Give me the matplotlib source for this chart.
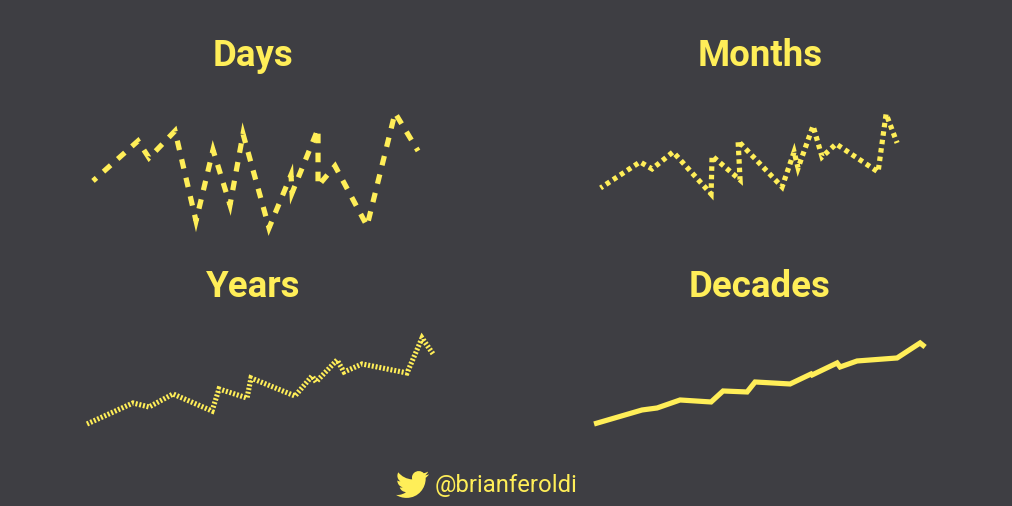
import matplotlib
matplotlib.use("Agg")
import matplotlib.pyplot as plt
from matplotlib.path import Path
from matplotlib.patches import PathPatch

plt.rcParams['lines.scale_dashes'] = False

BG = '#3E3E43'
YELLOW = '#FFEE58'

days_x = [93, 138, 149, 175, 196, 213, 230, 243, 269, 291, 292, 318, 318, 335, 367, 395, 418]
days_y = [181, 141, 158, 131, 221, 150, 205, 134, 228, 175, 193, 129, 186, 166, 226, 113, 151]
months_x = [600.5, 640, 652, 673, 711, 712, 740, 738, 782, 794, 798, 813, 822, 836, 878, 886, 897]
months_y = [188, 162, 169, 152, 194, 156, 180, 141, 187, 152, 168, 126, 157, 144, 172, 114, 143]
years_x = [87, 133, 149, 173, 212, 219, 247, 251, 295, 312, 316, 337, 344, 362, 407, 422, 433]
years_y = [424, 403, 407, 394, 411, 389, 398, 378, 396, 376, 382, 360, 372, 364, 373, 338, 354]
decades_x = [594, 642, 657, 680, 711, 723, 747, 755, 790, 811, 812, 837, 840, 857, 897, 920, 925]
decades_y = [424, 410, 408, 400, 402, 391, 392, 382, 384, 374, 375, 363, 367, 361, 358, 343, 347]

titles = ['Days', 'Months', 'Years', 'Decades']
handle = '@brianferoldi'

fig = plt.figure(figsize=(10.121, 5.061), dpi=100, facecolor=BG)
ax = fig.add_axes([0, 0, 1, 1])
ax.set_xlim(0, 1012)
ax.set_ylim(506, 0)
ax.axis('off')

px = 0.72  # points per pixel at 100 dpi
series = [
    (days_x, days_y, (5 * px, (9.6 * px, 9.4 * px))),
    (months_x, months_y, (2 * px, (4.5 * px, 4 * px))),
    (years_x, years_y, (0, (2 * px, 1.8 * px))),
    (decades_x, decades_y, None),
]
for x, y, dash in series:
    line, = ax.plot(x, y, color=YELLOW, lw=5.2 * px,
                    solid_joinstyle='miter', solid_capstyle='butt',
                    dash_joinstyle='miter', dash_capstyle='butt')
    if dash is not None:
        line.set_linestyle(dash)

title_pos = [(253, 66), (760, 66), (253, 297), (759, 297)]
for t, (tx, ty) in zip(titles, title_pos):
    ax.text(tx, ty, t, color=YELLOW, fontsize=26.4, fontweight='bold',
            family='Roboto', ha='center', va='baseline')

ax.text(435, 492, handle, color=YELLOW, fontsize=17.2, family='Roboto',
        ha='left', va='baseline')

# Twitter bird (24-unit icon) as Bezier outline
start = (23.953, 4.57)
segs = [
    (-.9, .4, -1.85, .65, -2.825, .775), (1.01, -.61, 1.79, -1.57, 2.163, -2.723),
    (-.951, .555, -2.005, .959, -3.127, 1.184), (-1.9, -2.02, -5.08, -2.12, -7.1, -.22),
    (-1.29, 1.21, -1.84, 3.03, -1.284, 4.702), (-4.09, -.19, -7.713, -2.155, -10.14, -5.123),
    (-.43, .74, -.666, 1.59, -.666, 2.475), (0, 1.71, .87, 3.213, 2.188, 4.096),
    (-.78, -.03, -1.54, -.24, -2.228, -.616), (0, .02, 0, .04, 0, .06),
    (0, 2.35, 1.67, 4.36, 3.946, 4.827), (-.72, .2, -1.48, .23, -2.212, .085),
    (.64, 2.02, 2.5, 3.38, 4.604, 3.417), (-1.74, 1.36, -3.89, 2.105, -6.102, 2.105),
    (-.39, 0, -.779, -.023, -1.17, -.067), (2.26, 1.45, 4.88, 2.21, 7.557, 2.209),
    (9.053, 0, 13.998, -7.496, 13.998, -13.985), (0, -.21, 0, -.42, -.015, -.63),
    (.97, -.7, 1.8, -1.56, 2.46, -2.57),
]
scale, ox, oy = 33 / 24, 396, 468
def to_fig(p):
    return (ox + p[0] * scale, oy + p[1] * scale)
verts = [to_fig(start)]
codes = [Path.MOVETO]
cx, cy = start
for a, b, c, d, e, f in segs:
    verts += [to_fig((cx + a, cy + b)), to_fig((cx + c, cy + d)), to_fig((cx + e, cy + f))]
    codes += [Path.CURVE4] * 3
    cx, cy = cx + e, cy + f
verts.append(to_fig(start))
codes.append(Path.CLOSEPOLY)
ax.add_patch(PathPatch(Path(verts, codes), facecolor=YELLOW, edgecolor='none'))

fig.savefig('out.png', dpi=100, facecolor=BG)
